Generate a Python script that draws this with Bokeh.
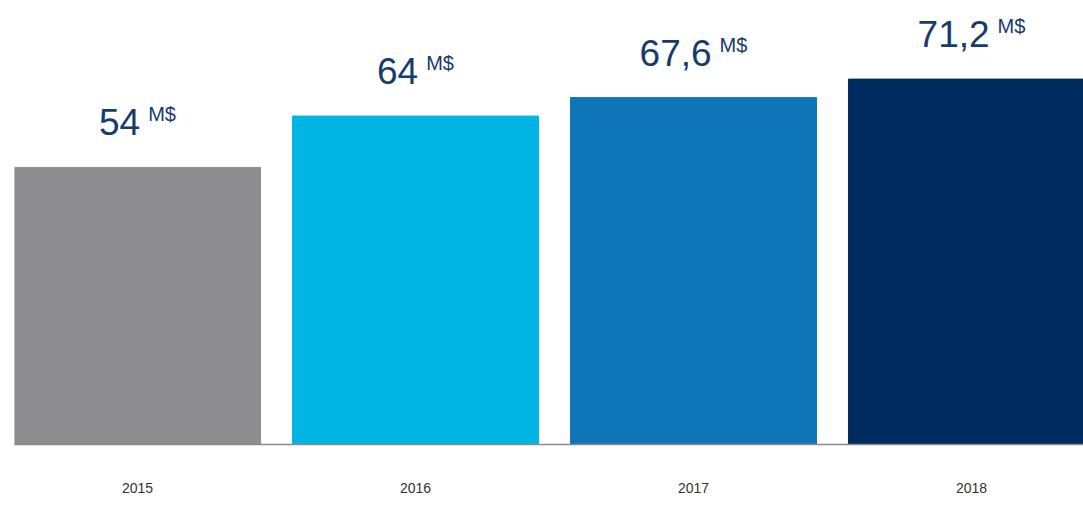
from bokeh.plotting import figure
from bokeh.models import ColumnDataSource, FixedTicker, Range1d
from bokeh.embed import file_html
from bokeh.resources import INLINE
from bokeh.core.properties import value

years = ["2015", "2016", "2017", "2018"]
revenue = [54, 64, 67.6, 71.2]
labels = ["54", "64", "67,6", "71,2"]
unit = "M$"
colors = ["#8e8e90", "#00b4e4", "#0e76b8", "#002b5e"]

NUM_SIZE = 37
UNIT_SIZE = 20
GAP = 8

def text_width(s, size):
    w = 0.0
    for ch in s:
        if ch.isdigit():
            w += 0.556
        elif ch in ",.":
            w += 0.278
        elif ch == "M":
            w += 0.833
        elif ch == "$":
            w += 0.556
        else:
            w += 0.5
    return w * size

wm = text_width(unit, UNIT_SIZE)
num_off = [(text_width(s, NUM_SIZE) - GAP - wm) / 2 for s in labels]
unit_off = [o + GAP for o in num_off]

xs = list(range(len(years)))
src = ColumnDataSource(dict(x=xs, top=revenue, color=colors, label=labels,
                            unit=[unit] * len(years), noff=num_off, uoff=unit_off))

W, H = 1083, 495
LEFT, BOTTOM = 14, 49
p = figure(width=W, height=H, output_backend="svg", toolbar_location=None,
           x_range=Range1d(-0.4424, -0.4424 + (W - LEFT) / 278.0),
           y_range=Range1d(0, (H - BOTTOM) / 5.155),
           min_border_left=LEFT, min_border_right=0, min_border_top=0, min_border_bottom=BOTTOM)
p.outline_line_color = None
p.background_fill_color = "white"
p.border_fill_color = "white"
p.grid.visible = False
p.yaxis.visible = False

p.vbar(x="x", top="top", bottom=0, width=0.885, color="color", source=src)

p.text(x="x", y="top", text="label", source=src, x_offset="noff", y_offset=-45,
       text_align="right", text_baseline="alphabetic", text_color="#163b6e",
       text_font=value("Liberation Sans"), text_font_size=f"{NUM_SIZE}px")
p.text(x="x", y="top", text="unit", source=src, x_offset="uoff", y_offset=-53,
       text_align="left", text_baseline="alphabetic", text_color="#163b6e",
       text_font=value("Liberation Sans"), text_font_size=f"{UNIT_SIZE}px")

ax = p.xaxis[0]
ax.ticker = FixedTicker(ticks=xs)
ax.major_label_overrides = {i: y for i, y in zip(xs, years)}
ax.major_tick_line_color = None
ax.minor_tick_line_color = None
ax.axis_line_color = "#8a8a8a"
ax.axis_line_width = 1.5
ax.major_label_standoff = 32
ax.major_label_text_font = "Liberation Sans"
ax.major_label_text_font_size = "14px"
ax.major_label_text_color = "#333333"

open("out.html", "w").write(file_html(p, INLINE))
